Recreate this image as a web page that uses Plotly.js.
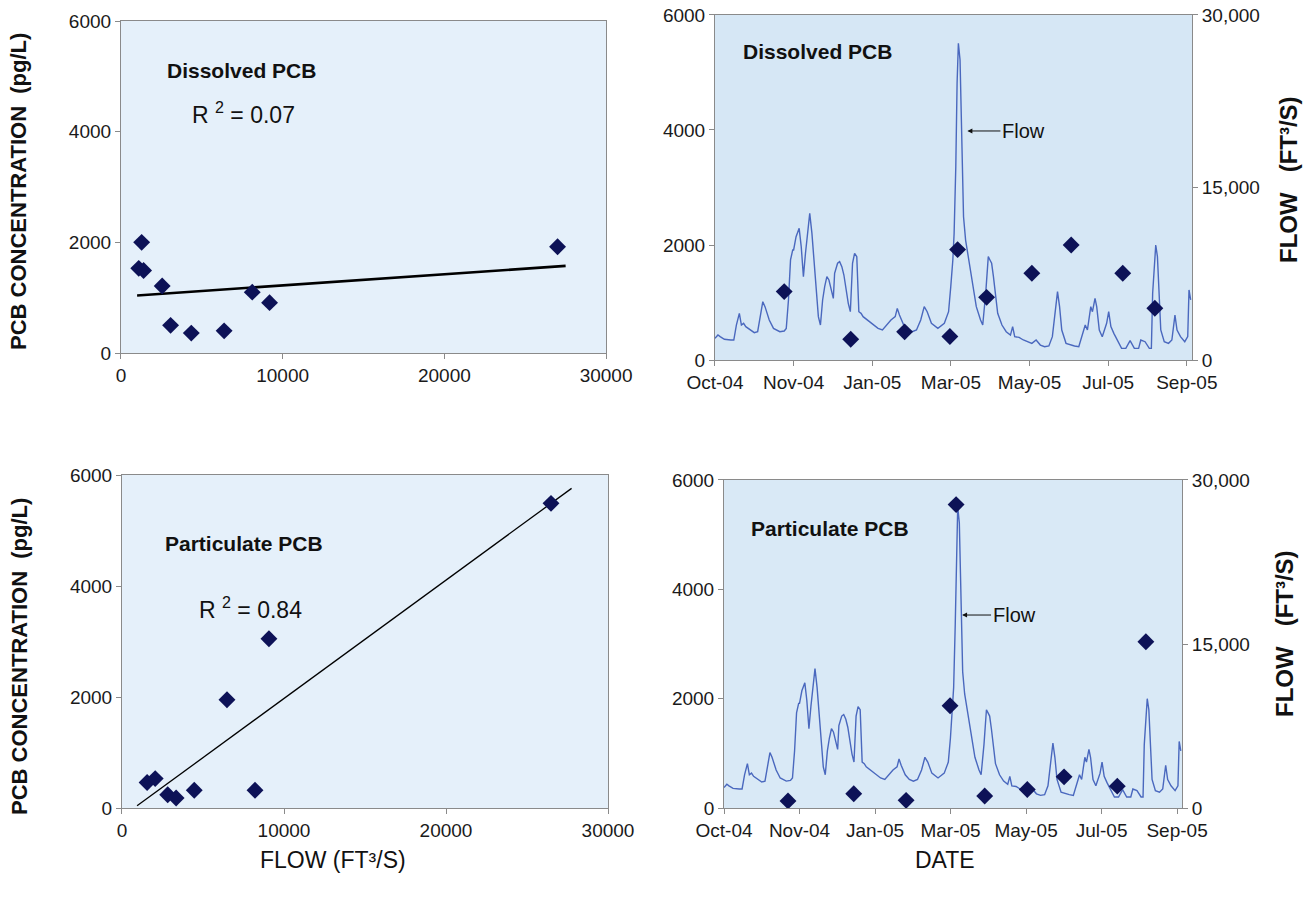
<!DOCTYPE html>
<html><head><meta charset="utf-8">
<script src="https://cdn.plot.ly/plotly-3.0.1.min.js"></script>
<style>html,body{margin:0;padding:0;background:#fff;} #chart{width:1309px;height:898px;}</style>
</head><body><div id="chart"></div>
<script>
// ---- Concentration vs flow (scatter panels) ----
const dissolvedFlow = [1100, 1280, 1400, 2550, 3070, 4350, 6380, 8120, 9190, 27000];
const dissolvedConc = [1530, 2000, 1490, 1210, 500, 360, 400, 1100, 910, 1920];
const dissolvedFitFlow = [1000, 27500];
const dissolvedFitConc = [1040, 1575];

const particulateFlow = [1550, 2050, 2820, 3340, 4460, 6480, 8210, 9070, 26480];
const particulateConc = [460, 530, 240, 180, 320, 1950, 320, 3050, 5490];
const particulateFitFlow = [930, 27750];
const particulateFitConc = [40, 5760];

// ---- Time series panels (day 0 = Oct-04 axis start) ----
const dateTickDays = [0, 61, 122, 183, 244, 305, 366];
const dateTickLabels = ['Oct-04', 'Nov-04', 'Jan-05', 'Mar-05', 'May-05', 'Jul-05', 'Sep-05'];

const flowDay = [0, 2.3, 4, 7.3, 12.3, 14.6, 16.6, 18.9, 20.5, 22.2, 23.9, 27.2, 30.5, 33.1, 34.5, 37.1, 38.8, 42.1, 45.4, 50.3,
  53.7, 55.3, 57.0, 58.6, 60.3, 61.0, 62.9, 65.3, 66.9, 68.6, 70.2, 71.9, 73.5, 75.2, 76.9, 78.5, 80.2, 81.8, 83.5, 85.1,
  86.8, 88.4, 90.1, 91.8, 92.8, 95.1, 96.7, 98.4, 100.0, 101.7, 103.4, 105.0, 106.7, 108.3, 110.0, 111.6, 113.3, 114.9, 116.6, 119.9,
  123.2, 126.5, 129.9, 133.2, 136.5, 139.8, 141.4, 143.1, 146.4, 149.7, 153.0, 156.3, 159.6, 162.3, 164.6, 167.9, 172.9, 177.9, 181.2, 182.9,
  184.5, 185.5, 186.8, 187.8, 188.8, 190.1, 191.1, 192.8, 194.4, 196.1, 199.4, 202.7, 206.0, 207.7, 210.0, 212.0, 213.3, 214.6, 216.0, 217.6,
  219.3, 222.6, 225.9, 229.2, 230.9, 232.5, 235.9, 239.2, 242.5, 245.8, 249.1, 252.4, 255.7, 259.0, 261.7, 264.0, 265.7, 267.3, 269.0, 272.3,
  275.6, 278.9, 282.2, 285.5, 287.2, 288.9, 291.5, 292.8, 294.8, 296.1, 298.1, 300.4, 303.8, 305.4, 307.1, 309.4, 312.0, 315.4, 318.7, 322.0,
  325.3, 328.6, 330.3, 333.6, 336.9, 338.5, 339.5, 340.9, 341.9, 343.2, 344.5, 345.8, 348.5, 351.8, 354.4, 356.8, 358.4, 361.1, 364.4, 366.7,
  367.7, 369.0];
const flowCfs = [1880, 2170, 2030, 1800, 1740, 1740, 3040, 4060, 3040, 3190, 2900, 2610, 2380, 2460, 3480, 5070, 4640, 3480, 2750, 2460,
  2520, 2750, 5220, 8700, 9570, 9570, 10720, 11450, 9860, 7250, 9280, 11010, 12750, 11010, 8700, 5800, 3770, 3040, 5220, 6380,
  7250, 6960, 6090, 5360, 7540, 8410, 8550, 8120, 7390, 6090, 4930, 4200, 8410, 9280, 8990, 4200, 4060, 3770, 3620, 3330,
  3040, 2750, 2610, 3040, 3480, 3770, 4490, 3910, 3040, 2610, 2460, 2610, 3480, 4640, 4200, 3190, 2750, 3190, 4200, 6380,
  8700, 11010, 16810, 24060, 27540, 26090, 19710, 12460, 10430, 9280, 6670, 4640, 3480, 3040, 5800, 8990, 8700, 8410, 7250, 5510,
  4060, 3040, 2460, 2170, 2900, 2030, 1970, 1740, 1590, 1450, 1740, 1300, 1160, 1220, 2030, 4350, 5940, 4640, 2610, 1450,
  1300, 1220, 1160, 2320, 3040, 2610, 4640, 4200, 5360, 4640, 2610, 2030, 3190, 4200, 2900, 2320, 1740, 1010, 1010, 1680,
  1010, 1010, 1740, 1590, 1010, 1010, 5800, 8120, 10000, 8990, 5800, 2610, 1590, 1450, 1740, 3910, 2610, 2030, 1590, 2030,
  6090, 5220];

const dissolvedSampleDay = [53.7, 105.3, 147.1, 182.2, 188.2, 210.7, 245.8, 276.3, 316.3, 341.2];
const dissolvedSampleConc = [1190, 360, 490, 410, 1920, 1090, 1510, 2000, 1510, 900];
const particulateSampleDay = [51.7, 104.8, 147.1, 182.6, 187.5, 210.6, 245.0, 274.7, 317.7, 340.8];
const particulateSampleConc = [130, 260, 140, 1870, 5550, 220, 340, 570, 400, 3040];

const concTicks = [0, 2000, 4000, 6000];
const flowScatterTicks = [0, 10000, 20000, 30000];
const flowAxisTicks = [0, 15000, 30000];

// ---- styles ----
const markerStyle = {symbol: 'diamond', size: 13, color: '#0D1257', line: {width: 0}};
const frameColor = '#8a8a8a';
const baseAxis = {
  showline: true, linecolor: frameColor, linewidth: 1, mirror: true,
  ticks: 'outside', ticklen: 5, tickcolor: frameColor, tickwidth: 1,
  showgrid: false, zeroline: false, fixedrange: true,
  tickfont: {size: 19, color: '#1a1a1a'}
};
function ax(extra) { return Object.assign({}, baseAxis, extra); }

const traces = [
  {x: dissolvedFitFlow, y: dissolvedFitConc, xaxis: 'x', yaxis: 'y', mode: 'lines', line: {color: '#000', width: 2.6}, hoverinfo: 'skip'},
  {x: dissolvedFlow, y: dissolvedConc, xaxis: 'x', yaxis: 'y', mode: 'markers', marker: markerStyle},

  {x: flowDay, y: flowCfs, xaxis: 'x2', yaxis: 'y2', mode: 'lines', line: {color: '#4A68BE', width: 1.4}},
  {x: dissolvedSampleDay, y: dissolvedSampleConc, xaxis: 'x2', yaxis: 'y5', mode: 'markers', marker: markerStyle},

  {x: particulateFitFlow, y: particulateFitConc, xaxis: 'x3', yaxis: 'y3', mode: 'lines', line: {color: '#000', width: 1.3}, hoverinfo: 'skip'},
  {x: particulateFlow, y: particulateConc, xaxis: 'x3', yaxis: 'y3', mode: 'markers', marker: markerStyle},

  {x: flowDay, y: flowCfs, xaxis: 'x4', yaxis: 'y4', mode: 'lines', line: {color: '#4A68BE', width: 1.4}},
  {x: particulateSampleDay, y: particulateSampleConc, xaxis: 'x4', yaxis: 'y6', mode: 'markers', marker: markerStyle}
];

function bg(xr, yr, color) {
  return {type: 'rect', xref: xr + ' domain', yref: yr + ' domain', x0: 0, x1: 1, y0: 0, y1: 1,
    fillcolor: color, line: {width: 0}, layer: 'below'};
}

const boldLabel = {size: 21, color: '#111'};
const annFont = {size: 20, color: '#111'};
const rFont = {size: 23, color: '#111'};

const layout = {
  width: 1309, height: 898,
  margin: {l: 0, r: 0, t: 0, b: 0},
  paper_bgcolor: '#ffffff', plot_bgcolor: 'rgba(0,0,0,0)',
  showlegend: false,
  font: {family: '"Liberation Sans", Arial, sans-serif', size: 19, color: '#1a1a1a'},

  xaxis: ax({domain: [0.0924, 0.4630], anchor: 'y', range: [0, 30000], tickvals: flowScatterTicks, tickformat: 'd'}),
  yaxis: ax({domain: [0.6069, 0.9766], anchor: 'x', range: [0, 6000], tickvals: concTicks, tickformat: 'd'}),

  xaxis2: ax({domain: [0.5462, 0.9106], anchor: 'y2', range: [0, 370], tickvals: dateTickDays, ticktext: dateTickLabels}),
  yaxis2: ax({domain: [0.5991, 0.9833], anchor: 'x2', side: 'right', mirror: false, range: [0, 30000], tickvals: flowAxisTicks, tickformat: ',d'}),
  yaxis5: ax({overlaying: 'y2', anchor: 'x2', side: 'left', mirror: false, range: [0, 6000], tickvals: concTicks, tickformat: 'd'}),

  xaxis3: ax({domain: [0.0932, 0.4645], anchor: 'y3', range: [0, 30000], tickvals: flowScatterTicks, tickformat: 'd'}),
  yaxis3: ax({domain: [0.1002, 0.4710], anchor: 'x3', range: [0, 6000], tickvals: concTicks, tickformat: 'd'}),

  xaxis4: ax({domain: [0.5531, 0.9030], anchor: 'y4', range: [0, 370], tickvals: dateTickDays, ticktext: dateTickLabels}),
  yaxis4: ax({domain: [0.1002, 0.4655], anchor: 'x4', side: 'right', mirror: false, range: [0, 30000], tickvals: flowAxisTicks, tickformat: ',d'}),
  yaxis6: ax({overlaying: 'y4', anchor: 'x4', side: 'left', mirror: false, range: [0, 6000], tickvals: concTicks, tickformat: 'd'}),

  shapes: [
    bg('x', 'y', '#E5F0FA'),
    bg('x2', 'y2', '#D6E7F5'),
    bg('x3', 'y3', '#E5F0FA'),
    bg('x4', 'y4', '#D9E9F6')
  ],

  annotations: [
    {xref: 'x', yref: 'y', x: 2700, y: 5110, text: '<b>Dissolved PCB</b>', showarrow: false, xanchor: 'left', yanchor: 'middle', font: boldLabel},
    {xref: 'x', yref: 'y', x: 4250, y: 4330, text: 'R <sup>2</sup> = 0.07', showarrow: false, xanchor: 'left', yanchor: 'middle', font: rFont},

    {xref: 'x2', yref: 'y5', x: 20.2, y: 5357, text: '<b>Dissolved PCB</b>', showarrow: false, xanchor: 'left', yanchor: 'middle', font: boldLabel},
    {xref: 'x2', yref: 'y5', x: 195.8, y: 3983, text: 'Flow', showarrow: true, ax: 33, ay: 0, xanchor: 'left',
      arrowhead: 2, arrowsize: 1, arrowwidth: 1, arrowcolor: '#111', font: annFont},

    {xref: 'x3', yref: 'y3', x: 2530, y: 4775, text: '<b>Particulate PCB</b>', showarrow: false, xanchor: 'left', yanchor: 'middle', font: boldLabel},
    {xref: 'x3', yref: 'y3', x: 4630, y: 3600, text: 'R <sup>2</sup> = 0.84', showarrow: false, xanchor: 'left', yanchor: 'middle', font: rFont},

    {xref: 'x4', yref: 'y6', x: 20.2, y: 5104, text: '<b>Particulate PCB</b>', showarrow: false, xanchor: 'left', yanchor: 'middle', font: boldLabel},
    {xref: 'x4', yref: 'y6', x: 192.3, y: 3530, text: 'Flow', showarrow: true, ax: 29, ay: 0, xanchor: 'left',
      arrowhead: 2, arrowsize: 1, arrowwidth: 1, arrowcolor: '#111', font: annFont},

    // axis titles
    {xref: 'paper', yref: 'paper', x: 19 / 1309, y: 1 - 192 / 898, text: '<b>PCB CONCENTRATION  (pg/L)</b>', textangle: -90,
      showarrow: false, xanchor: 'center', yanchor: 'middle', font: {size: 22, color: '#111'}},
    {xref: 'paper', yref: 'paper', x: 19 / 1309, y: 1 - 657 / 898, text: '<b>PCB CONCENTRATION  (pg/L)</b>', textangle: -90,
      showarrow: false, xanchor: 'center', yanchor: 'middle', font: {size: 22, color: '#111'}},
    {xref: 'paper', yref: 'paper', x: 1288 / 1309, y: 1 - 180 / 898, text: '<b>FLOW   (FT³/S)</b>', textangle: -90,
      showarrow: false, xanchor: 'center', yanchor: 'middle', font: {size: 24, color: '#111'}},
    {xref: 'paper', yref: 'paper', x: 1284 / 1309, y: 1 - 634 / 898, text: '<b>FLOW   (FT³/S)</b>', textangle: -90,
      showarrow: false, xanchor: 'center', yanchor: 'middle', font: {size: 24, color: '#111'}},
    {xref: 'paper', yref: 'paper', x: 333 / 1309, y: 1 - 860 / 898, text: 'FLOW (FT³/S)', showarrow: false,
      xanchor: 'center', yanchor: 'middle', font: {size: 23, color: '#111'}},
    {xref: 'paper', yref: 'paper', x: 945 / 1309, y: 1 - 860 / 898, text: 'DATE', showarrow: false,
      xanchor: 'center', yanchor: 'middle', font: {size: 23, color: '#111'}}
  ]
};

Plotly.newPlot('chart', traces, layout, {staticPlot: true, displayModeBar: false});
</script>
</body></html>
